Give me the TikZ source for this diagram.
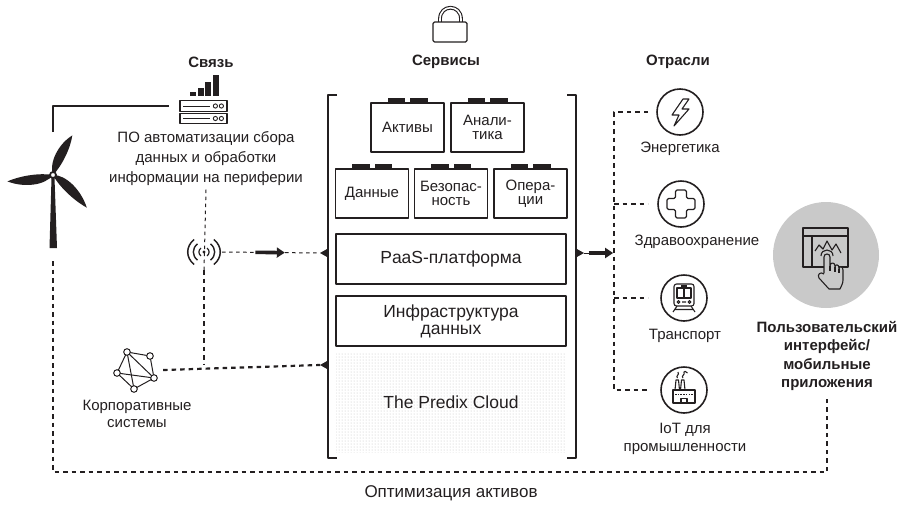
\documentclass[tikz,border=0pt]{standalone}
\usepackage{fontspec}
\setsansfont{Liberation Sans}
\usetikzlibrary{arrows.meta,patterns}
\begin{document}
\begin{tikzpicture}[x=1pt,y=-1pt,font=\sffamily\fontsize{15}{18}\selectfont,line join=round]
\definecolor{cink}{HTML}{231F20}\definecolor{cdisc}{HTML}{C9C9C9}
\definecolor{cdots}{HTML}{BDBDBD}
\tikzset{tile/.style={draw=cink,line width=1.2,minimum width=73,minimum height=49,align=center,inner sep=1,font=\sffamily\fontsize{15}{14}\selectfont},
 layer/.style={draw=cink,line width=1.2,minimum width=230,minimum height=50,align=center,inner sep=1,font=\sffamily\fontsize{17.5}{17}\selectfont},
 hdr/.style={font=\sffamily\bfseries\fontsize{15}{18.5}\selectfont,align=center},
 ring/.style={circle,draw=cink,line width=1.6,minimum size=46,inner sep=0},
 icon/.style={line width=1.1,draw=cink},
 wire/.style={line width=2.2,draw=cink},
 dashwire/.style={line width=2.2,draw=cink,dash pattern=on 4.5 off 4},
 thinwire/.style={line width=1,draw=cink,dash pattern=on 3.5 off 3.5},
 bigarrow/.style={line width=3.6,draw=cink,-{Triangle[length=8,width=10]}}}
\useasboundingbox (0,0) rectangle (905,504);
\color{cink}
% headers
\node[hdr] (hcomm) at (211,62) {Связь};
\node[hdr] (hserv) at (446,62) {Сервисы};
\node[hdr] (hind) at (678,62) {Отрасли};
% lock
\draw[line width=3.8] (440,22) -- (440,19) .. controls (440,4) and (461,4) .. (461,19) -- (461,22);
\draw[line width=1.6,white] (440,23) -- (440,19) .. controls (440,4) and (461,4) .. (461,19) -- (461,23);
\draw[line width=1.2,fill=white,rounded corners=1.5] (433,22) rectangle (467,42);
% wind turbine
\fill (51.5,178) -- (54.5,178) -- (57,248) -- (49.5,248) -- cycle;
\foreach \a/\l in {64/44,188/46,316/47}
  \fill[shift={(53,175)},rotate=\a] (0,0) .. controls (9,-9) and (30,-9) .. (\l,0) .. controls (32,4) and (12,4) .. (0,0);
\draw[line width=1.8,fill=white] (53,175) circle (3);
\coordinate (ttop) at (53,132);
\coordinate (tbase) at (53,261);
% edge device
\node[draw,line width=1.2,minimum width=47,minimum height=11,inner sep=0] (srv) at (203.5,106) {};
\node[draw,line width=1.2,minimum width=47,minimum height=10,inner sep=0] (srvb) at (203.5,118.5) {};
\foreach \s in {srv,srvb} {
  \draw[line width=1] ([xshift=4]\s.west) -- ([xshift=31]\s.west);
  \draw[line width=0.9] ([xshift=36]\s.west) circle (2.1) ([xshift=42]\s.west) circle (2.1);}
\foreach \i/\h in {0/4,1/8,2/14,3/21}
  \fill ({190+7.6*\i},96) rectangle ++(6,-\h);
\draw[wire] (ttop) |- ([xshift=-10]srv.west);
\node[align=center,font=\sffamily\fontsize{15}{20}\selectfont] (edge) at (206,159) {ПО автоматизации сбора\\данных и обработки\\информации на периферии};
% wireless link
\node[circle,minimum size=36,inner sep=0] (sig) at (204,252) {};
\fill (sig) circle (1.7);
\foreach \r/\w in {5/1.2,10.5/1.4,16/1.5} {
  \draw[line width=\w] ({204+0.62*\r},{252-0.78*\r}) .. controls ({204+1.15*\r},{252-0.35*\r}) and ({204+1.15*\r},{252+0.35*\r}) .. ({204+0.62*\r},{252+0.78*\r});
  \draw[line width=\w] ({204-0.62*\r},{252-0.78*\r}) .. controls ({204-1.15*\r},{252-0.35*\r}) and ({204-1.15*\r},{252+0.35*\r}) .. ({204-0.62*\r},{252+0.78*\r});}
% enterprise systems
\node[circle,minimum size=44,inner sep=0] (corp) at (136,370) {};
\coordinate (ka) at (127,352); \coordinate (kb) at (150,356); \coordinate (kc) at (117,373);
\coordinate (kd) at (154,378); \coordinate (ke) at (134,389);
\foreach \u/\v in {a/b,b/d,d/e,e/c,c/a,a/d,a/e,c/d}
  \draw[line width=1] (k\u) -- (k\v);
\foreach \n in {a,b,c,d,e}
  \draw[line width=1,fill=white] (k\n) circle (3.3);
\node[align=center,font=\sffamily\fontsize{15}{17.5}\selectfont] (corptxt) at (137,414) {Корпоративные\\системы};
% services
\node[tile] (act) at (407.5,127.5) {Активы};
\node[tile] (ana) at (487.5,127.5) {Анали-\\тика};
\node[tile] (dat) at (372,193.5) {Данные};
\node[tile] (sec) at (451,193.5) {Безопас-\\ность};
\node[tile] (ops) at (530.5,193.5) {Опера-\\ции};
\foreach \t in {act,ana,dat,sec,ops} {
  \fill ([xshift=-20]\t.north) rectangle ([xshift=-2.5,yshift=4]\t.north);
  \fill ([xshift=2.5]\t.north) rectangle ([xshift=20,yshift=4]\t.north);}
\node[layer] (paas) at (451,259) {PaaS-платформа};
\node[layer] (infra) at (451,321) {Инфраструктура\\данных};
\node[minimum width=230,minimum height=100,pattern=dots,pattern color=cdots,font=\sffamily\fontsize{17.5}{20}\selectfont] (cloud) at (451,402) {The Predix Cloud};
% brackets
\draw[line width=2.6] (337,95) -- (328,95) -- (328,458) -- (337,458);
\draw[line width=2.6] (567,95) -- (576,95) -- (576,458) -- (567,458);
\coordinate (nubA) at (320,253); \coordinate (nubB) at (320,365); \coordinate (nubC) at (584,253);
\fill (328,248.5) -- (nubA) -- (328,257.5) -- cycle;
\fill (328,360.5) -- (nubB) -- (328,369.5) -- cycle;
\fill (576,248.5) -- (nubC) -- (576,257.5) -- cycle;
% links into the platform
\draw[thinwire] (edge.south) -- (sig.south);
\draw[dashwire] (sig.south) -- (sig |- nubB);
\draw[dashwire] ([xshift=5]corp.east) -- (nubB);
\draw[thinwire] (sig.east) -- (nubA);
\path (sig.east) -- (nubA) coordinate[pos=0.34] (ma) coordinate[pos=0.64] (mb);
\draw[bigarrow] (ma) -- (mb);
% industries
\coordinate (trunk) at (614,253);
\coordinate (tip) at (648,253);
\path (nubC) -- (trunk) coordinate[pos=0.15] (mc) coordinate[pos=0.97] (md);
\draw[line width=1] (nubC) -- (mc);
\draw[bigarrow] (mc) -- (md);
\node[ring] (en) at (680,112) {};
\node[ring] (he) at (681,204) {};
\node[ring] (tr) at (684,298) {};
\node[ring] (iot) at (684,390) {};
\node (entxt) at (680,149) {Энергетика};
\node (hetxt) at (697,242) {Здравоохранение};
\node (trtxt) at (685,336) {Транспорт};
\node[align=center,font=\sffamily\fontsize{15}{18}\selectfont] (iottxt) at (685,439) {IoT для\\промышленности};
\draw[dashwire] (en.west -| tip) -- (en.west -| trunk) -- (iot.west -| trunk) -- (iot.west -| tip);
\draw[dashwire] (he.west -| trunk) -- (he.west -| tip);
\draw[dashwire] (tr.west -| trunk) -- (tr.west -| tip);
\begin{scope}[shift={(en)},icon]
  \draw (3,-13) -- (-8,3) -- (-1,3) -- (-6,14) -- (9,-3) -- (2,-3) -- (9,-13) -- cycle;
\end{scope}
\begin{scope}[shift={(he)},icon]
  \draw[rounded corners=1.5] (-5.5,-14) -- (5.5,-14) -- (5.5,-5.5) -- (14,-5.5) -- (14,5.5) -- (5.5,5.5) -- (5.5,14) -- (-5.5,14) -- (-5.5,5.5) -- (-14,5.5) -- (-14,-5.5) -- (-5.5,-5.5) -- cycle;
\end{scope}
\begin{scope}[shift={(tr)},icon]
  \draw[rounded corners=2.5] (-10,-14) rectangle (10,8);
  \draw (-7,-10) rectangle (7,0) (0,-10) -- (0,0) (-3,-12) -- (3,-12);
  \draw (-5.5,4) circle (1.4) (5.5,4) circle (1.4) (-2,4) -- (2,4);
  \draw (-7,8) -- (-11,14) (7,8) -- (11,14) (-9,11.5) -- (9,11.5);
\end{scope}
\begin{scope}[shift={(iot)},icon]
  \draw (-11,13) -- (-11,0) -- (11,0) -- (11,13) -- cycle;
  \draw[dash pattern=on 1.5 off 1.2] (-9,4.5) -- (9,4.5);
  \draw (-3,13) -- (-3,8.5) -- (3,8.5) -- (3,13);
  \draw (-9,0) -- (-8,-10) -- (-5.5,-10) -- (-4.5,0) (-3.5,0) -- (-2.5,-10) -- (0,-10) -- (1,0);
  \draw (-6.5,-12) .. controls (-9,-14) and (-4,-15) .. (-6,-18);
  \draw (-1,-12) .. controls (-3.5,-14) and (1.5,-15) .. (0,-18) .. controls (-0.5,-19) and (2.5,-19) .. (3.5,-17);
\end{scope}
% user interface
\node[circle,fill=cdisc,minimum size=106,inner sep=0] (ui) at (826,255) {};
\draw[icon] (803,228) rectangle (848,267) (803,236) -- (848,236) (812,236) -- (812,267);
\draw[icon] (815,251) -- (819,245) -- (823,249) -- (827,241) -- (832,250) -- (836,244) -- (841,253);
\draw[icon] (821,256) .. controls (821,248) and (833,248) .. (833,256);
\draw[icon,fill=cdisc] (824,273) -- (824,257) .. controls (824,253) and (830,253) .. (830,257) -- (830,266)
  .. controls (830,262) and (835,262) .. (835,266) -- (835,267) .. controls (835,264) and (839,264) .. (839,268)
  -- (839,269) .. controls (839,266) and (843,266) .. (843,270) -- (843,280) .. controls (843,284) and (841,286) .. (840,289)
  -- (829,289) -- (819,278) .. controls (817,275) and (820,271) .. (824,274);
\draw[icon] (830,266) -- (830,271) (835,267) -- (835,272) (839,269) -- (839,273);
\node[hdr] (uitxt) at (827,356) {Пользовательский\\интерфейс/\\мобильные\\приложения};
% optimisation loop
\coordinate (back) at (827,472);
\draw[dashwire] (tbase) |- (back) -- ([yshift=-4]uitxt.south);
\node[font=\sffamily\fontsize{17}{20}\selectfont] (opt) at (451,493) {Оптимизация активов};
\end{tikzpicture}
\end{document}
